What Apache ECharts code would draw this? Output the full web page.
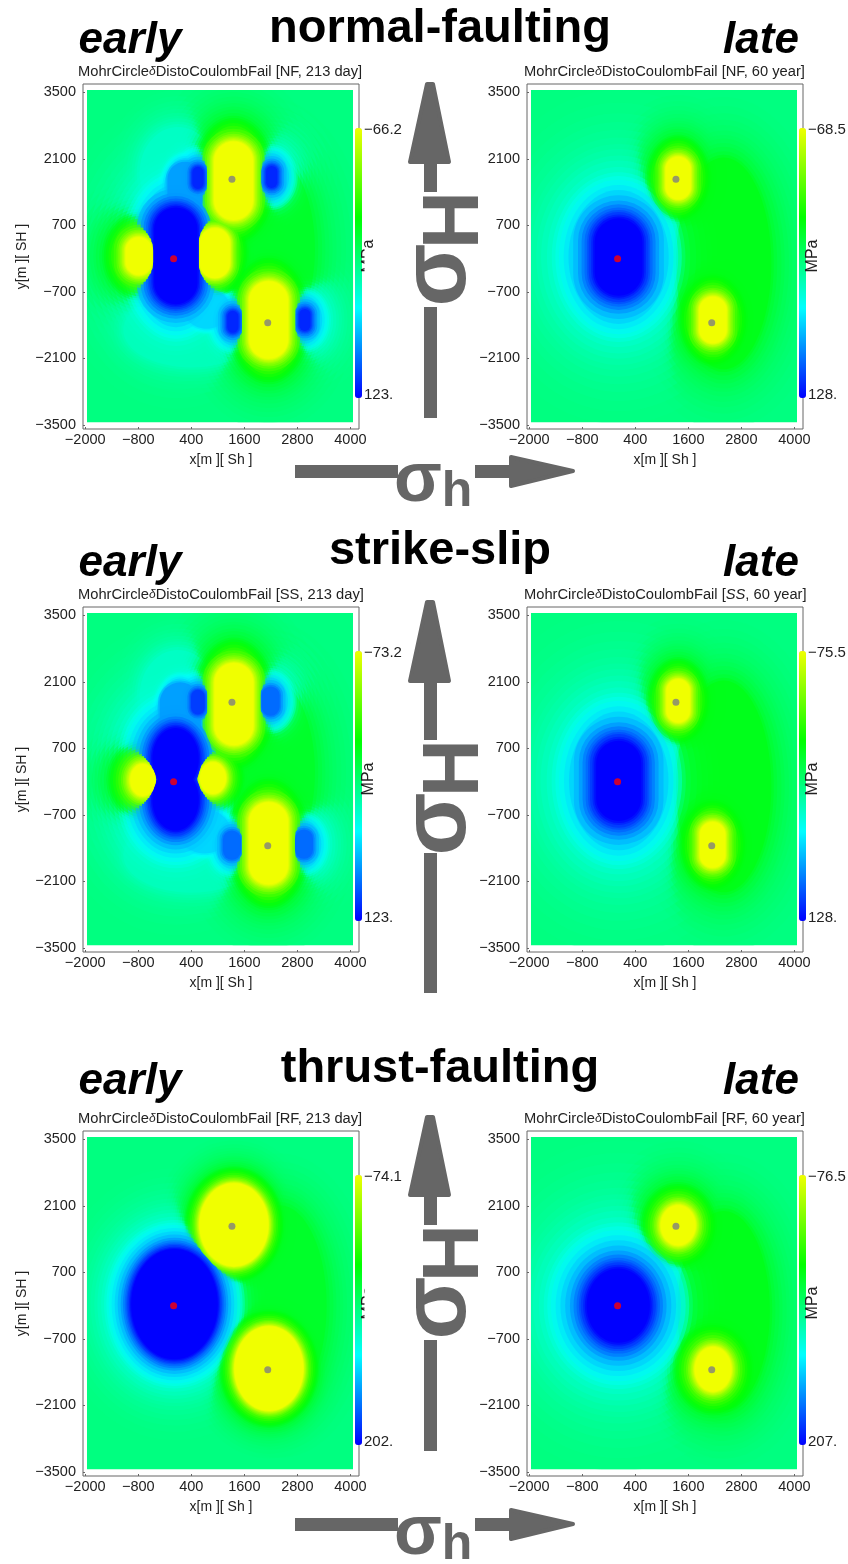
<!DOCTYPE html>
<html><head><meta charset="utf-8">
<style>html,body{margin:0;padding:0;background:#fff}#c{width:848px;height:1564px}</style>
<script src="https://cdn.jsdelivr.net/npm/echarts@6/dist/echarts.min.js"></script>
</head><body><div id="c"></div>
<script>
// Panel labels and colour-bar ranges (MPa)
const panelCodes = ['NF','NF','SS','SS','RF','RF'];
const panelTimes = ['213 day','60 year','213 day','60 year','213 day','60 year'];
const colorMin = [-66.2,-68.5,-73.2,-75.5,-74.1,-76.5];
const colorMax = [123,128,123,128,202,207];
const maxLabels = ['123.','128.','123.','128.','202.','207.'];
const xTicks = [-2000,-800,400,1600,2800,4000];
const yTicks = [-3500,-2100,-700,700,2100,3500];
const redPoint = [[0,0]];
const grayPoints = [[1320,1670],[2130,-1350]];

// Field features: x, y, core width, core height, halo reach, peak tone
// (tone 0 = top of the colour bar, 1 = bottom, 0.5 = background)
const fieldNFearly = [
 [2100,200,900,2800,1800,.36],[400,-1500,2000,500,1200,.6],[100,1800,700,900,1300,.62],
 [50,60,980,2035,2200,1],[260,1450,520,900,1000,.8],[550,1700,170,380,1400,.97],
 [2220,1720,170,380,1400,.97],[1340,-1330,170,380,1400,.97],[2970,-1290,170,380,1400,.97],[750,-1050,700,500,800,.76],
 [-785,54,600,790,1500,0],[934,116,680,1050,1200,0],[1357,1640,880,1650,1500,0],[2150,-1290,880,1630,1500,0]];
const fieldNFlate = [
 [2400,-100,900,3200,1900,.33],[22,33,1080,1630,2700,1],
 [1370,1696,565,900,1300,0],[2157,-1290,620,980,1350,0]];
const fieldSSearly = [
 [2100,200,900,2800,1800,.36],[400,-1550,2000,500,1200,.6],[100,1800,700,900,1300,.62],
 [45,480,1050,1300,2200,1],[45,-380,1050,1300,2200,1],[150,1300,650,1300,1000,.8],[550,1673,170,380,1400,.92],
 [2195,1695,170,380,1400,.88],[1320,-1336,170,380,1400,.88],[2950,-1315,170,380,1400,.88],[700,-1050,800,550,850,.76],
 [-700,35,565,670,1500,0],[890,75,590,670,1200,0],[1365,1630,880,1730,1500,0],[2150,-1300,880,1730,1500,0]];
const fieldSSlate = [
 [2400,-100,900,3200,1900,.33],[25,15,1020,1690,2800,1],
 [1370,1700,530,910,1300,0],[2150,-1330,570,965,1350,0]];
const fieldRFearly = [
 [2400,0,900,3000,1700,.36],[20,30,1960,2320,1700,1],
 [1365,1700,1560,1750,1000,0],[2156,-1325,1560,1780,1000,0]];
const fieldRFlate = [
 [2400,-100,900,3000,1800,.33],[15,0,1430,1560,2700,1],
 [1370,1690,790,850,1350,0],[2160,-1340,830,940,1400,0]];
const panelFields = [fieldNFearly,fieldNFlate,fieldSSearly,fieldSSlate,fieldRFearly,fieldRFlate];

// Contour bands: tone distance from background, share of the halo reach, opacity
const contourBands = [[.008,1,.35],[.016,.9,.35],[.024,.82,.35],[.032,.75,.35],[.04,.69,.35],[.05,.63,.35],[.06,.58,.35],[.07,.54,.35],[.085,.49,.35],[.1,.45,.35],[.12,.4,.35],[.14,.36,.4],[.16,.33,.4],[.18,.3,.45],[.21,.26,.5],[.24,.22,.55],[.27,.18,.65],[.3,.14,.8],[.33,.11,1],[.36,.085,1],[.39,.065,1],[.42,.05,1],[.45,.03,1],[.48,.015,1],[.5,0,1]];
const heatX = [-1960,4060], heatY = [-3450,3550];
const colorStops = ['#f0ff00','#00ff00','#00ffff','#0000ff'];

const GRAY = '#666666', FONT = '"Liberation Sans",Arial,sans-serif';
const rowTop = [84,607,1131], colLeft = [83,527];
const grids=[],xAxes=[],yAxes=[],series=[],visualMaps=[],titles=[],graphics=[];
const txt=(text,x,y,size,o={})=>graphics.push({type:'text',x,y,rotation:o.rot||0,z:o.z||20,silent:true,
  style:{text,font:`${o.style||'normal'} ${o.weight||'normal'} ${size}px ${FONT}`,fill:o.fill||'#000',align:o.align||'center',verticalAlign:'middle'}});
const minus=v=>String(v).replace('-','\u2212');

panelFields.forEach((field,p)=>{
  const row=Math.floor(p/2),col=p%2,top=rowTop[row],left=colLeft[col];
  const lo=colorMin[p],hi=colorMax[p],val=t=>lo+t*(hi-lo);
  // x, y, width, height, value, outline (0 capsule, 1 ellipse, 2 plain rectangle), paint order, opacity
  const items=[[(heatX[0]+heatX[1])/2,(heatY[0]+heatY[1])/2,heatX[1]-heatX[0],heatY[1]-heatY[0],val(.5),2,-1,1]];
  field.forEach(([x,y,w,h,reach,peak])=>{
    const side=peak>.5?1:-1, limit=Math.abs(peak-.5), round=h/w<1.3;
    contourBands.forEach(([d,f,op])=>{
      if(d>limit+1e-6) return;
      items.push([x,y,w+2*reach*f,h+2*reach*f,val(.5+side*d),(f>=.2||round)?1:0,d,op]);
    });
  });
  items.sort((a,b)=>a[6]-b[6]);
  grids.push({left,top,width:276,height:345,show:true,borderColor:GRAY,borderWidth:1,backgroundColor:'#fff'});
  xAxes.push({type:'value',gridIndex:p,min:-2050,max:4195,splitLine:{show:false},
    name:'x[m ][ Sh ]',nameLocation:'middle',nameGap:24,nameTextStyle:{fontFamily:FONT,fontSize:14,color:'#222'},
    axisLine:{show:false,onZero:false},axisTick:{show:true,inside:true,length:2,lineStyle:{color:GRAY},customValues:xTicks},
    axisLabel:{customValues:xTicks,margin:3,fontFamily:FONT,fontSize:14.5,color:'#222',formatter:minus,hideOverlap:false}});
  yAxes.push({type:'value',gridIndex:p,min:-3585,max:3675,splitLine:{show:false},
    name:p%2?'':'y[m ][ SH ]',nameLocation:'middle',nameGap:54,nameTextStyle:{fontFamily:FONT,fontSize:14,color:'#222'},
    axisLine:{show:false,onZero:false},axisTick:{show:true,inside:true,length:2,lineStyle:{color:GRAY},customValues:yTicks},
    axisLabel:{customValues:yTicks,margin:7,fontFamily:FONT,fontSize:14.5,color:'#222',formatter:minus,hideOverlap:false}});
  series.push({type:'custom',xAxisIndex:p,yAxisIndex:p,silent:true,animation:false,progressive:0,
    encode:{x:0,y:1},data:items,
    renderItem:(params,api)=>{
      const c=api.coord([api.value(0),api.value(1)]),s=api.size([api.value(2),api.value(3)]);
      const a=api.coord([heatX[0],heatY[1]]),b=api.coord([heatX[1],heatY[0]]);
      const kind=api.value(5);
      const clipPath={type:'rect',shape:{x:a[0],y:a[1],width:b[0]-a[0],height:b[1]-a[1]}};
      const style={fill:api.visual('color'),opacity:api.value(7)};
      if(kind===1) return {type:'ellipse',shape:{cx:c[0],cy:c[1],rx:s[0]/2,ry:s[1]/2},style,clipPath};
      return {type:'rect',shape:{x:c[0]-s[0]/2,y:c[1]-s[1]/2,width:s[0],height:s[1],r:kind===2?0:Math.min(s[0],s[1])/2},style,clipPath};
    }});
  series.push({type:'scatter',xAxisIndex:p,yAxisIndex:p,silent:true,animation:false,z:5,symbolSize:7,
    data:[{value:redPoint[0],itemStyle:{color:'#ff0000'}},...grayPoints.map(g=>({value:g,itemStyle:{color:'#808080'}}))]});
  visualMaps.push({type:'continuous',seriesIndex:2*p,dimension:4,min:lo,max:hi,inverse:true,calculable:false,
    left:left+272,top:top+44,itemWidth:7,itemHeight:270,text:null,showLabel:false,padding:0,
    inRange:{color:colorStops}});
  const code=(p===3)?'{i|SS}':panelCodes[p];
  titles.push({left:col?524:78,top:top-20,padding:0,
    text:`MohrCircle{d|\u03b4}DistoCoulombFail [${code}, ${panelTimes[p]}]`,
    textStyle:{fontFamily:FONT,fontSize:14.7,fontWeight:'normal',color:'#222',
      rich:{d:{fontStyle:'italic',fontSize:12,fontFamily:FONT,color:'#222'},i:{fontStyle:'italic',fontSize:14.7,fontFamily:FONT,color:'#222'}}}});
  txt(minus(lo),left+281,top+46,15,{align:'left',fill:'#222'});
  txt(maxLabels[p],left+281,top+311,15,{align:'left',fill:'#222'});
  txt('MPa',left+286,top+172,16,{rot:Math.PI/2,fill:'#222'});
});
graphics.push({type:'rect',z:21,silent:true,shape:{x:364.5,y:248,width:14,height:30},style:{fill:'#fff'}});
graphics.push({type:'rect',z:21,silent:true,shape:{x:364.5,y:1280,width:14,height:45},style:{fill:'#fff'}});

// Headings
[['normal-faulting',29.5],['strike-slip',551.5],['thrust-faulting',1069.5]].forEach(([t,y])=>txt(t,440,y,47,{weight:'bold'}));
[41,564,1082].forEach(y=>{txt('early',130,y,44,{weight:'bold',style:'italic'});txt('late',761,y,44,{weight:'bold',style:'italic'});});

// Stress-direction arrows
const rect=(x,y,w,h)=>graphics.push({type:'rect',z:15,silent:true,shape:{x,y,width:w,height:h},style:{fill:GRAY}});
const poly=pts=>graphics.push({type:'polygon',z:15,silent:true,shape:{points:pts},style:{fill:GRAY,stroke:GRAY,lineWidth:4,lineJoin:'round'}});
[[84,164,192,199,248,307,418],[602,683,740,747,797,853,993],[1117,1197,1225,1232,1281,1340,1451]].forEach(([tip,base,end,hTop,sTop,low,lowEnd])=>{
  poly([[427,tip],[433,tip],[449,base-2],[410,base-2]]);
  rect(424,base,13,end-base);rect(424,low,13,lowEnd-low);
  txt('H',456,hTop+21,80,{rot:Math.PI/2,weight:'bold',fill:GRAY});
  txt('\u03c3',440,sTop+27,92,{rot:Math.PI/2,weight:'bold',fill:GRAY});
});
[471,1524].forEach(y=>{
  rect(295,y-6,103,13);rect(475,y-6,35,13);
  poly([[511,y-14],[573,y],[511,y+15]]);
  txt('\u03c3',418,y+11,70,{weight:'bold',fill:GRAY});
  txt('h',457,y+21,50,{weight:'bold',fill:GRAY});
});

const chart=echarts.init(document.getElementById('c'),null,{renderer:'canvas'});
chart.setOption({animation:false,title:titles,grid:grids,xAxis:xAxes,yAxis:yAxes,series,visualMap:visualMaps,graphic:{elements:graphics}});
</script></body></html>
